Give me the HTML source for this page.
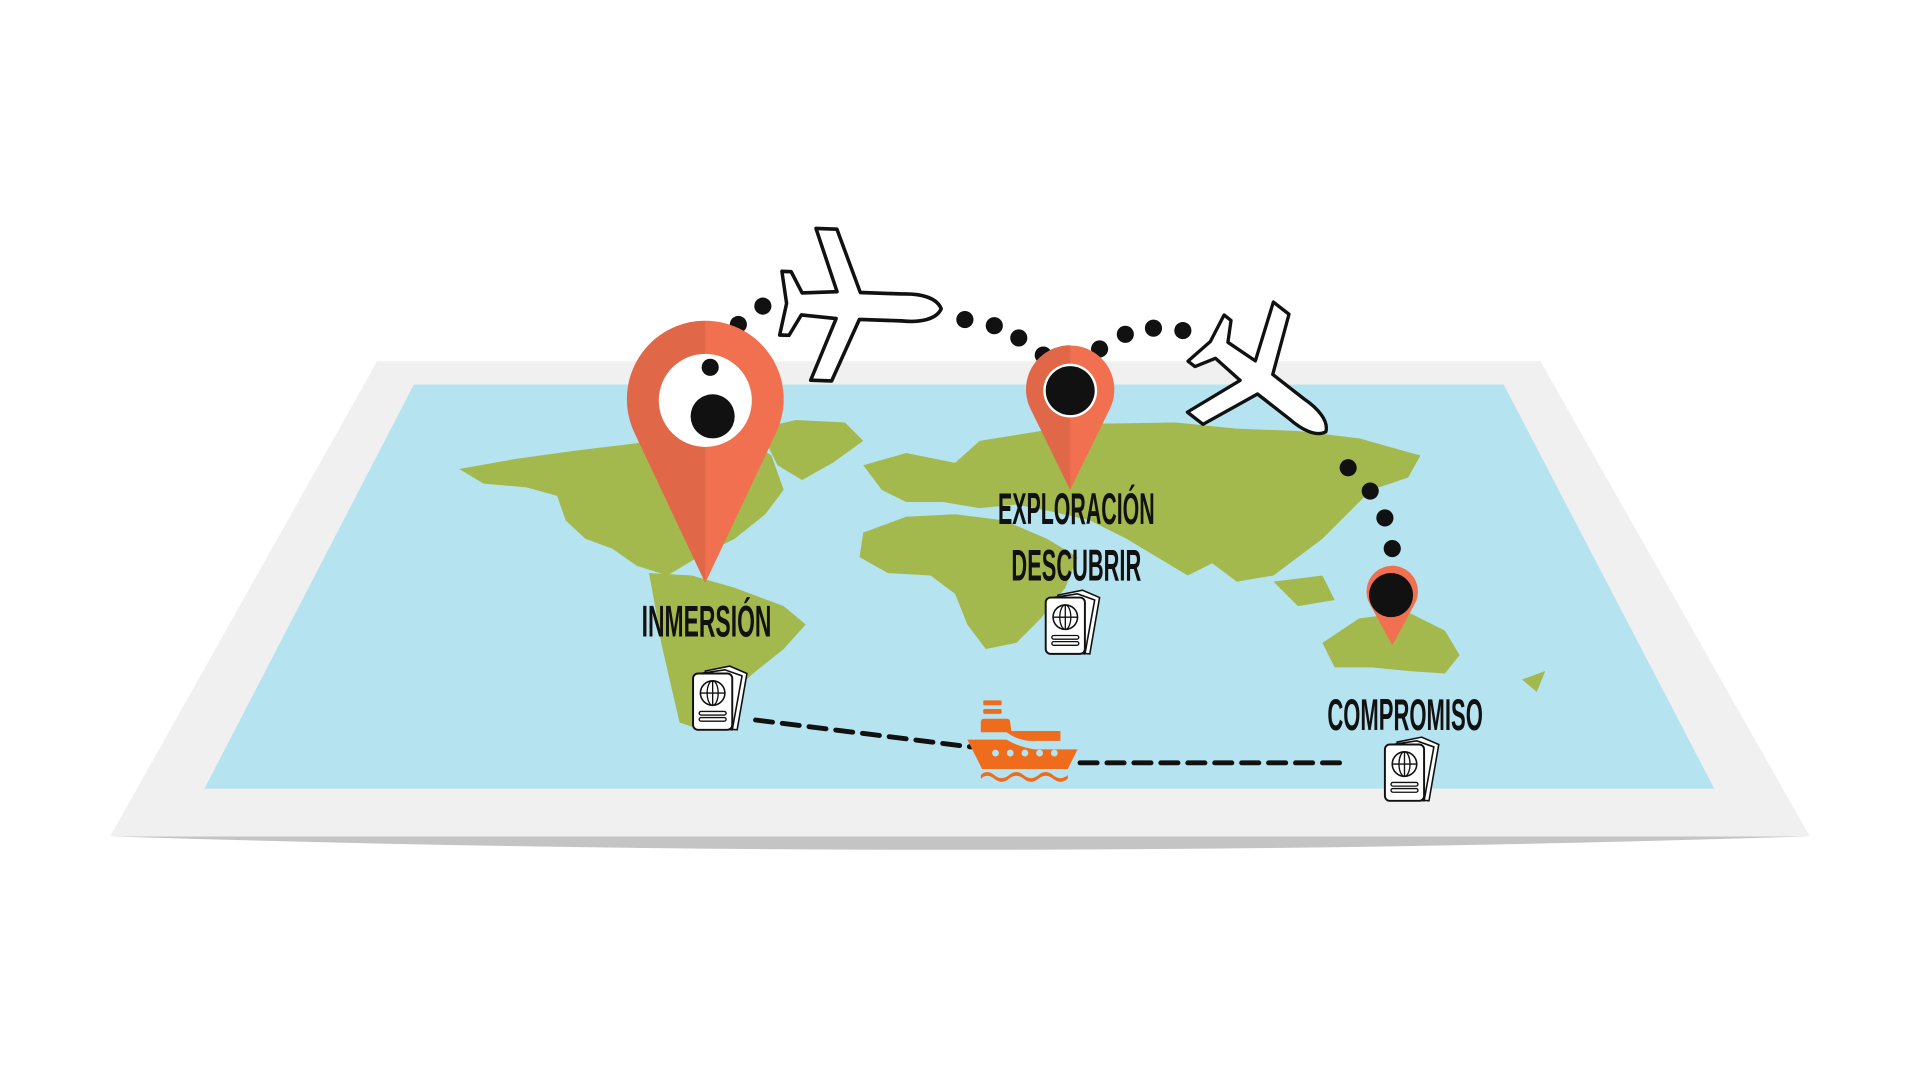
<!DOCTYPE html>
<html><head><meta charset="utf-8"><style>html,body{margin:0;padding:0;background:#fff;width:1920px;height:1080px;overflow:hidden}svg{display:block}
.lbl{font-family:"Liberation Sans Narrow","Liberation Sans",sans-serif;font-weight:bold;font-size:36px;fill:#111}</style></head>
<body>
<svg width="1920" height="1080" viewBox="0 0 1568 882" xmlns="http://www.w3.org/2000/svg">
<defs>
<g id="pp">
 <path d="M10,2 L30,-2 L44,4 L36,50 L14,48 Z" fill="#fff" stroke="#111" stroke-width="1.3"/>
 <path d="M6,4 L26,1 L40,6 L32,50 L10,48 Z" fill="#fff" stroke="#111" stroke-width="1.3"/>
 <rect x="0" y="4" width="32" height="46" rx="4" fill="#fff" stroke="#111" stroke-width="1.6"/>
 <circle cx="16" cy="20" r="10" fill="none" stroke="#111" stroke-width="1.3"/>
 <ellipse cx="16" cy="20" rx="4.5" ry="10" fill="none" stroke="#111" stroke-width="1.1"/>
 <path d="M6,20 H26 M16,10 V30" stroke="#111" stroke-width="1.1"/>
 <rect x="5" y="35" width="22" height="3" rx="1.5" fill="none" stroke="#111" stroke-width="1.1"/>
 <rect x="5" y="40" width="22" height="3" rx="1.5" fill="none" stroke="#111" stroke-width="1.1"/>
</g>
<path id="plane" d="M66,0 C62,-9 48,-12 32,-11 L-4,-11 L-26,-62 L-44,-62 L-24,-11 L-54,-9 L-64,-26 L-72,-26 L-67,0 L-72,26 L-64,26 L-54,9 L-24,11 L-44,62 L-26,62 L-4,11 L32,11 C48,12 62,9 66,0Z" fill="#fff" stroke="#111" stroke-width="3" stroke-linejoin="round"/>
</defs>
<path d="M90,683 Q780,705 1478,683 Z" fill="#c4c4c4"/>
<polygon points="308,295 1258,295 1478,683 90,683" fill="#f0f0f0"/>
<polygon points="338,314 1228,314 1400,644 167,644" fill="#b5e3ef"/>
<g fill="#a3b94e">
 <path d="M375,383 L420,375 L470,368 L520,362 L560,350 L600,352 L630,372 L640,400 L625,420 L600,440 L570,455 L545,470 L520,462 L500,448 L478,440 L462,425 L455,405 L430,398 L395,395 Z"/>
 <path d="M620,350 L650,343 L690,345 L705,360 L680,378 L655,392 L635,380 Z"/>
 <path d="M530,468 L565,470 L600,480 L640,495 L658,510 L640,530 L615,550 L590,572 L570,595 L555,590 L548,560 L540,525 L535,495 Z"/>
 <path d="M705,380 L740,370 L780,378 L800,360 L850,352 L900,346 L960,345 L1010,350 L1060,352 L1110,358 L1160,372 L1150,390 L1120,400 L1100,420 L1080,440 L1060,455 L1040,470 L1010,475 L990,460 L970,470 L945,455 L920,440 L890,425 L860,418 L830,412 L800,415 L770,410 L740,410 L720,400 Z"/>
 <path d="M705,435 L740,422 L780,420 L820,425 L855,440 L880,455 L870,480 L850,505 L830,525 L805,530 L790,510 L780,485 L760,470 L725,468 L702,455 Z"/>
 <path d="M1080,525 L1110,505 L1150,500 L1180,515 L1192,535 L1180,550 L1150,548 L1120,545 L1090,545 Z"/>
 <path d="M1040,475 L1080,470 L1090,490 L1060,495 Z"/>
 <path d="M1243,555 L1262,548 L1255,565 Z"/>
</g>
<g fill="#111">
 <circle cx="603" cy="265" r="7"/><circle cx="623" cy="250" r="7"/>
 <circle cx="788" cy="261" r="7"/><circle cx="812" cy="266" r="7"/><circle cx="832" cy="276" r="7"/><circle cx="852" cy="290" r="7"/>
 <circle cx="898" cy="285" r="7"/><circle cx="919" cy="273" r="7"/><circle cx="942" cy="268" r="7"/><circle cx="966" cy="270" r="7"/>
 <circle cx="1101" cy="382" r="7"/><circle cx="1119" cy="401" r="7"/><circle cx="1131" cy="423" r="7"/><circle cx="1137" cy="448" r="7"/>
</g>
<use href="#plane" transform="translate(706,250) rotate(2) scale(0.95,1)"/>
<use href="#plane" transform="translate(1036,316) rotate(38) scale(0.9,0.92)"/>
<!-- big pin -->
<path d="M576,476 L518,353 A64,64 0 1 1 634,353 Z" fill="#f07050"/>
<path d="M576,476 L518,353 A64,64 0 0 1 576,262 Z" fill="#e06848"/>
<circle cx="576" cy="327" r="38" fill="#fff"/>
<circle cx="582" cy="340" r="18" fill="#111"/>
<circle cx="580" cy="300" r="7" fill="#111"/>
<!-- middle pin -->
<path d="M874,400 L841.6,333.8 A36,36 0 1 1 906.4,333.8 Z" fill="#f07050"/>
<path d="M874,400 L841.6,333.8 A36,36 0 0 1 874,282 Z" fill="#e06848"/>
<circle cx="874" cy="319" r="22" fill="#fff"/>
<circle cx="874" cy="319" r="20" fill="#111"/>
<!-- right pin -->
<path d="M1137,527 L1118.5,493 A21,21 0 1 1 1155.5,493 Z" fill="#f07050"/>
<circle cx="1136" cy="486" r="18" fill="#111"/>
<text class="lbl" x="524" y="520" textLength="106" lengthAdjust="spacingAndGlyphs">INMERSIÓN</text>
<text class="lbl" x="815" y="428" textLength="128" lengthAdjust="spacingAndGlyphs">EXPLORACIÓN</text>
<text class="lbl" x="826" y="474" textLength="106" lengthAdjust="spacingAndGlyphs">DESCUBRIR</text>
<text class="lbl" x="1084" y="596" textLength="127" lengthAdjust="spacingAndGlyphs">COMPROMISO</text>
<use href="#pp" transform="translate(566,546)"/>
<use href="#pp" transform="translate(854,484)"/>
<use href="#pp" transform="translate(1131,604)"/>
<g stroke="#111" stroke-width="4" stroke-dasharray="14 8" stroke-linecap="round" fill="none">
 <path d="M617,588 L793,610"/>
 <path d="M882,623 L1100,623"/>
</g>
<g fill="#ee6c1c">
 <rect x="803" y="572" width="15" height="4" rx="1"/>
 <rect x="803" y="579" width="15" height="4" rx="1"/>
 <path d="M801,598 L801,590 Q801,587 804,587 L822,587 Q825,587 825,590 L826,597 L866,597 L866,605 L840,605 Q830,604 822,598 Z"/>
 <path d="M790,604 L822,604 Q832,610 845,612 L880,612 L872,628 L802,628 Z"/>
 <path d="M801,633 Q806,628 812,633 Q818,638 824,633 Q830,628 836,633 Q842,638 848,633 Q854,628 860,633 Q866,638 872,633 L872,636 Q866,641 860,636 Q854,631 848,636 Q842,641 836,636 Q830,631 824,636 Q818,641 812,636 Q806,631 801,636 Z"/>
</g>
<g fill="#b5e3ef"><circle cx="813" cy="615" r="2.8"/><circle cx="825" cy="615" r="2.8"/><circle cx="837" cy="615" r="2.8"/><circle cx="849" cy="615" r="2.8"/><circle cx="861" cy="615" r="2.8"/></g>
</svg>
</body></html>
